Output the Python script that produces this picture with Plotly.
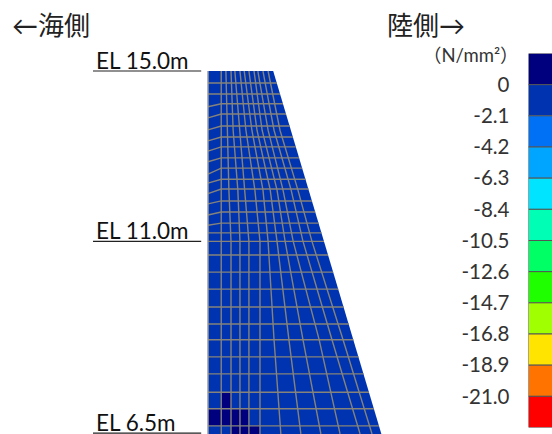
import plotly.graph_objects as go

# Wall section, metres (x from seaward face, y = elevation)
wall_x = [0, 1.53, 4.07, 0, 0]
wall_y = [15.0, 15.0, 6.48, 6.48, 15.0]

# Mesh rows: elevation at the right end and at the seaward face
row_el = [14.72, 14.46, 14.23, 13.99, 13.71, 13.45, 13.22, 12.96, 12.72, 12.46, 12.23, 11.95,
          11.69, 11.43, 11.20, 11.00, 10.68, 10.28, 9.88, 9.46, 9.06, 8.69, 8.29, 7.89, 7.46, 7.07, 6.67]
row_el_face = [14.72, 14.46, 14.16, 13.90, 13.62, 13.36, 13.12, 12.87, 12.58, 12.37, 12.12, 11.88,
               11.62, 11.38, 11.20, 11.00, 10.68, 10.28, 9.88, 9.46, 9.06, 8.69, 8.29, 7.89, 7.46, 7.07, 6.67]
# seaward-face x of each row's inner end
row_inner_x = 0.31

# Mesh columns: x of each column line at these elevations
col_el = [15.0, 13.61, 12.21, 11.0, 8.69, 6.48]
col_x = [
    [0.31, 0.31, 0.31, 0.31, 0.31, 0.31],
    [0.42, 0.45, 0.49, 0.54, 0.54, 0.54],
    [0.54, 0.59, 0.70, 0.75, 0.75, 0.75],
    [0.63, 0.75, 0.87, 0.96, 0.96, 0.96],
    [0.75, 0.89, 1.10, 1.22, 1.22, 1.22],
    [0.85, 1.03, 1.29, 1.41, 1.55, 1.71],
    [0.96, 1.15, 1.46, 1.62, 1.90, 2.18],
    [1.08, 1.27, 1.62, 1.81, 2.23, 2.65],
    [1.17, 1.41, 1.76, 2.00, 2.61, 3.10],
    [1.29, 1.55, 1.95, 2.23, 2.91, 3.57],
    [1.41, 1.69, 2.11, 2.44, 3.17, 3.85],
]
# x where each row meets the sloped face
edge_top_x, edge_bot_x, el_top, el_bot = 1.53, 4.07, 15.0, 6.48

# Cells in the 0 to +2.1 band: (x0, x1, el_low, el_high)
hot_cells = [
    (0.31, 0.54, 7.07, 7.46),
    (0.00, 0.96, 6.67, 7.07),
    (0.54, 1.22, 6.48, 6.67),
]

# Level markers
el_labels = ["EL 15.0m", "EL 11.0m", "EL 6.5m"]
el_values = [15.0, 11.0, 6.5]

# Colour scale
scale_ticks = [0, -2.1, -4.2, -6.3, -8.4, -10.5, -12.6, -14.7, -16.8, -18.9, -21.0]
scale_text = ["0", "-2.1", "-4.2", "-6.3", "-8.4", "-10.5", "-12.6", "-14.7", "-16.8", "-18.9", "-21.0"]
scale_tops = [2.1, 0, -2.1, -4.2, -6.3, -8.4, -10.5, -12.6, -14.7, -16.8, -18.9, -21.0]
scale_colors = ["#00007f", "#0033b0", "#0070f5", "#00a5ff", "#00e4ff", "#00ffb4",
                "#00ff64", "#20ff00", "#a0ff00", "#ffe400", "#ff7300", "#ff0000"]

WALL = "#0033b0"
HOT = "#00007f"
GRID = "#85837a"

fig = go.Figure()
fig.add_trace(go.Scatter(x=wall_x, y=wall_y, mode="lines", fill="toself", fillcolor=WALL,
                         line=dict(width=0), hoverinfo="skip"))

hx, hy = [], []
for x0, x1, e0, e1 in hot_cells:
    hx += [x0, x1, x1, x0, x0, None]
    hy += [e0, e0, e1, e1, e0, None]
fig.add_trace(go.Scatter(x=hx, y=hy, mode="lines", fill="toself", fillcolor=HOT,
                         line=dict(width=0), hoverinfo="skip"))

vx, vy = [], []
for xs in col_x:
    vx += xs + [None]
    vy += col_el + [None]
fig.add_trace(go.Scatter(x=vx, y=vy, mode="lines", line=dict(color=GRID, width=1.4), hoverinfo="skip"))

gx, gy = [], []
for e, ef in zip(row_el, row_el_face):
    right = edge_top_x + (edge_bot_x - edge_top_x) * (el_top - e) / (el_top - el_bot)
    gx += [0, row_inner_x, right, None]
    gy += [ef, e, e, None]
fig.add_trace(go.Scatter(x=gx, y=gy, mode="lines", line=dict(color=GRID, width=1.4), hoverinfo="skip"))

fig.add_trace(go.Scatter(x=[0, 0], y=[el_top, el_bot], mode="lines",
                         line=dict(color="#9a9a9a", width=1.5), hoverinfo="skip"))

# colour bar
for top, c in zip(scale_tops, scale_colors):
    fig.add_trace(go.Bar(x=[0.5], y=[-2.1], base=[top], width=[1], marker=dict(color=c, line=dict(color="#555555", width=1)),
                         xaxis="x2", yaxis="y2", hoverinfo="skip"))

for lab, v in zip(el_labels, el_values):
    fig.add_shape(type="line", x0=-2.70, x1=-0.16, y0=v, y1=v, line=dict(color="#222222", width=1.2))
    fig.add_annotation(x=-2.66, y=v, text=lab, showarrow=False, xanchor="left", yanchor="bottom", yshift=-1,
                       height=22, borderpad=0,
                       font=dict(family="Lato, Noto Sans", size=22.5, color="#111111"))

CJK = "Lato, Noto Sans CJK JP"
fig.add_annotation(xref="paper", yref="paper", x=10/552, y=1-25/434, text="←海側", showarrow=False,
                   xanchor="left", yanchor="middle", font=dict(family=CJK, size=26, color="#222222"))
fig.add_annotation(xref="paper", yref="paper", x=385/552, y=1-25/434, text="陸側→", showarrow=False,
                   xanchor="left", yanchor="middle", font=dict(family=CJK, size=26, color="#222222"))
fig.add_annotation(xref="paper", yref="paper", x=521/552, y=1-55/434, text="（N/mm²）", showarrow=False,
                   xanchor="right", yanchor="middle", font=dict(family=CJK, size=18.5, color="#333333"))

fig.update_layout(
    width=552, height=434, margin=dict(l=0, r=0, t=0, b=0), showlegend=False,
    paper_bgcolor="white", plot_bgcolor="white", barmode="overlay",
    xaxis=dict(range=[-4.883, 8.075], domain=[0, 1], visible=False, fixedrange=True),
    yaxis=dict(range=[6.479, 16.667], domain=[0, 1], visible=False, fixedrange=True),
    xaxis2=dict(range=[0, 0.95], domain=[528.5/552, 1], anchor="y2", visible=False, fixedrange=True),
    yaxis2=dict(range=[-23.1, 2.1], domain=[1-427.5/434, 1-53.5/434], anchor="x2", side="left",
                tickmode="array", tickvals=scale_ticks, ticktext=scale_text, ticks="",
                showgrid=False, zeroline=False, showline=False, ticklabelstandoff=18,
                tickfont=dict(family="Lato, Noto Sans", size=20.5, color="#333333"), fixedrange=True),
)
fig.write_html("out.html", config={"displayModeBar": False},
               post_script="document.body.style.margin='0';document.documentElement.style.overflow='hidden';")
